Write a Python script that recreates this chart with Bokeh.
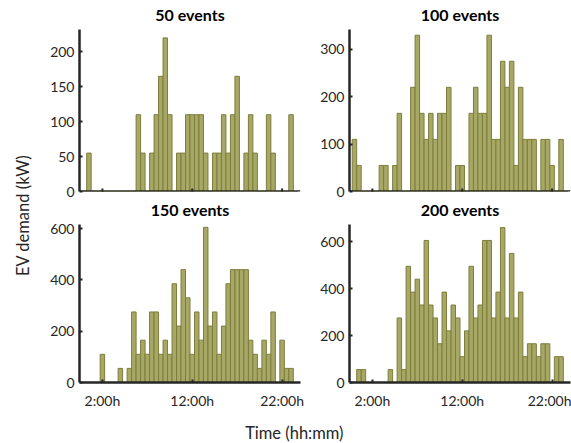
import math
import numpy as np
from bokeh.plotting import figure
from bokeh.layouts import row, column
from bokeh.models import Range1d, FixedTicker, Label, Span
from bokeh.embed import file_html
from bokeh.resources import INLINE

# ---- data ----
bin_hours = np.arange(0, 24, 0.5)   # half-hour bins, 0:00 .. 23:30

demand_50 = [0, 55, 0, 0, 0, 0, 0, 0, 0, 0, 0, 0,
             110, 55, 0, 55, 110, 165, 220, 110, 0, 55, 55, 110,
             110, 110, 110, 55, 0, 55, 55, 110, 55, 110, 165, 0,
             55, 110, 55, 0, 0, 110, 55, 0, 0, 0, 110, 0]

demand_100 = [110, 55, 0, 0, 0, 0, 55, 55, 0, 55, 165, 0,
              0, 220, 330, 165, 110, 165, 110, 165, 165, 220, 0, 55,
              55, 0, 165, 220, 165, 165, 330, 110, 110, 275, 220, 275,
              55, 220, 110, 110, 110, 0, 110, 110, 55, 0, 110, 0]

demand_150 = [0, 0, 0, 0, 110, 0, 0, 0, 55, 0, 55, 275,
              110, 165, 110, 275, 275, 110, 165, 110, 385, 220, 440, 330,
              110, 275, 165, 605, 220, 275, 110, 220, 385, 440, 440, 440,
              440, 165, 110, 55, 165, 110, 275, 0, 165, 55, 55, 0]

demand_200 = [0, 55, 55, 0, 0, 0, 0, 0, 55, 0, 275, 55,
              495, 385, 440, 330, 605, 330, 275, 165, 385, 220, 330, 275,
              110, 220, 495, 275, 330, 605, 605, 275, 385, 660, 275, 550,
              275, 385, 110, 165, 165, 110, 165, 165, 0, 110, 110, 0]

panel_titles = ["50 events", "100 events", "150 events", "200 events"]
y_ticks_50 = [0, 50, 100, 150, 200]
y_ticks_100 = [0, 100, 200, 300]
y_ticks_150 = [0, 200, 400, 600]
y_ticks_200 = [0, 200, 400, 600]
y_max = [232, 342, 616, 673]
x_ticks = [2, 12, 22]
x_tick_labels = ["2:00h", "12:00h", "22:00h"]
y_label = "EV demand (kW)"
x_label = "Time (hh:mm)"

FONT = "Lato"
FILL = "#a8a866"
EDGE = "#7d7d3c"
AX = "#262626"
X0, X1 = -0.55, 24.05


def panel(values, yticks, ymax, width, height, mbl, mbr, mbt, mbb, show_x):
    p = figure(width=width, height=height, output_backend="svg", toolbar_location=None,
               x_range=Range1d(X0, X1), y_range=Range1d(0, ymax),
               min_border_left=mbl, min_border_right=mbr,
               min_border_top=mbt, min_border_bottom=mbb)
    p.vbar(x=bin_hours, top=values, width=0.5, bottom=0,
           fill_color=FILL, line_color=EDGE, line_width=1)
    p.grid.visible = False
    p.outline_line_color = None
    p.background_fill_color = "white"
    p.border_fill_color = "white"
    p.xaxis.ticker = FixedTicker(ticks=x_ticks)
    p.xaxis.major_label_overrides = {t: l for t, l in zip(x_ticks, x_tick_labels)}
    p.yaxis.ticker = FixedTicker(ticks=yticks)
    for ax in p.axis:
        ax.axis_line_width = 2.5
        ax.axis_line_color = AX
        ax.major_tick_in = 3
        ax.major_tick_out = 0
        ax.major_tick_line_width = 2
        ax.major_tick_line_color = AX
        ax.minor_tick_line_color = None
        ax.major_label_text_font = FONT
        ax.major_label_text_font_size = "14px"
        ax.major_label_text_color = AX
    p.yaxis.major_label_standoff = 5
    if show_x:
        p.xaxis.major_label_standoff = 9
    else:
        # axis line and inward tick marks only (no tick labels in the top row)
        p.xaxis.visible = False
        p.add_layout(Span(location=0, dimension="width", line_color=AX, line_width=2.5))
        p.scatter(x=x_ticks, y=[0] * len(x_ticks), marker="dash", angle=math.pi / 2,
                  size=6, line_color=AX, line_width=2)
    return p


def text_strip(width, height, items, size="16.5px", style="normal", color=AX, angle=0):
    """A blank strip that carries text labels; items = [(text, x_frac, y_frac), ...]."""
    f = figure(width=width, height=height, output_backend="svg", toolbar_location=None,
               x_range=Range1d(0, 1), y_range=Range1d(0, 1), min_border=0)
    f.axis.visible = False
    f.grid.visible = False
    f.outline_line_color = None
    for text, x, y in items:
        f.add_layout(Label(x=x, y=y, text=text, angle=angle, text_align="center",
                           text_baseline="middle", text_font=FONT, text_font_size=size,
                           text_font_style=style, text_color=color))
    return f


# top row: titles strip at window y 0..26, plots 26..199
title_row1 = text_strip(531, 26, [(panel_titles[0], 149.5 / 531, 12 / 26),
                                  (panel_titles[1], 419.5 / 531, 12 / 26)],
                        size="16px", style="bold", color="black")
tl = panel(demand_50, y_ticks_50, y_max[0], 272, 173, 39, 12, 3, 8, False)
tr = panel(demand_100, y_ticks_100, y_max[1], 259, 173, 37, 1, 3, 8, False)

# bottom row: titles strip 199..219, plots 219..411
title_row2 = text_strip(531, 20, [(panel_titles[2], 149.5 / 531, 0.5),
                                  (panel_titles[3], 419.5 / 531, 0.5)],
                        size="16px", style="bold", color="black")
bl = panel(demand_150, y_ticks_150, y_max[2], 272, 192, 39, 12, 5, 25, True)
br = panel(demand_200, y_ticks_200, y_max[3], 259, 192, 37, 1, 4, 25, True)

ylab = text_strip(40, 443, [(y_label, 0.55, 0.515)], angle=math.pi / 2)
xlab = text_strip(531, 32, [(x_label, 0.478, 0.34)])

layout = row(ylab, column(title_row1, row(tl, tr), title_row2, row(bl, br), xlab))

open("out.html", "w").write(file_html(layout, INLINE))
